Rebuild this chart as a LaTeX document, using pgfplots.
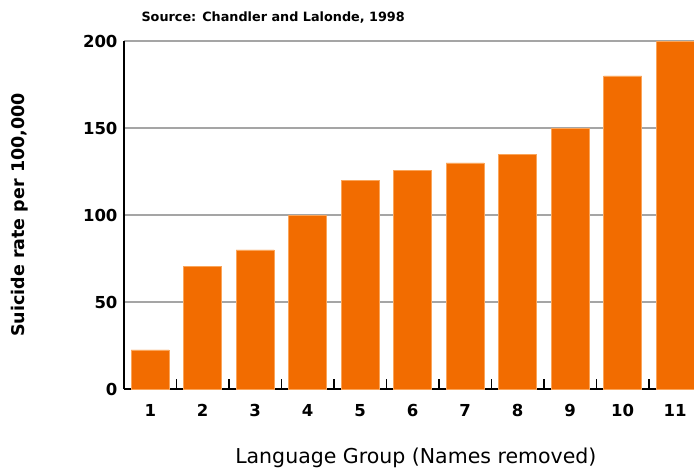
\documentclass[border=0pt]{standalone}
\usepackage{fontspec}
\setmainfont{DejaVu Sans}
\usepackage{pgfplots}
\pgfplotsset{compat=1.18}
\definecolor{barorange}{RGB}{242,108,0}
\definecolor{baredge}{RGB}{250,165,90}
\definecolor{gridgray}{RGB}{165,165,165}
\begin{document}
\begin{tikzpicture}
\useasboundingbox (-124pt,-83pt) rectangle (570pt,389pt);
\begin{axis}[
  at={(0pt,0pt)}, anchor=south west,
  scale only axis,
  width=570pt, height=348pt,
  xmin=0.5, xmax=11.36,
  ymin=0, ymax=200,
  axis lines*=left,
  axis line style={black, line width=1.3pt},
  ymajorgrids,
  grid style={gridgray, line width=1.3pt},
  ytick={0,50,100,150,200},
  xtick={1,2,3,4,5,6,7,8,9,10,11},
  tick style={black, line width=1.3pt},
  tick align=inside,
  major tick length=0pt,
  /pgf/number format/assume math mode=true,
  ticklabel style={font=\fontsize{16.5}{16.5}\selectfont\bfseries},
  yticklabel style={anchor=east, xshift=-3pt},
  xticklabel style={anchor=base, yshift=-27pt},
  extra x ticks={1.5,2.5,3.5,4.5,5.5,6.5,7.5,8.5,9.5,10.5},
  extra x tick labels={},
  extra x tick style={grid=none, major tick length=10pt, tick align=inside},
  xlabel={Language Group (Names removed)},
  ylabel={Suicide rate per 100,000},
  every axis x label/.style={at={(axis description cs:0.512,0)}, anchor=center, yshift=-69pt,
     font=\fontsize{20.5}{20.5}\selectfont},
  every axis y label/.style={at={(axis description cs:0,0.5)}, anchor=center, xshift=-104pt,
     rotate=90, font=\fontsize{17.5}{17.5}\selectfont\bfseries},
  clip=false,
]
\addplot[ybar, bar width=38pt, fill=barorange, draw=baredge, line width=0.6pt]
  coordinates {(1,22.5) (2,70.5) (3,80) (4,100) (5,120) (6,125.5) (7,130) (8,135) (9,150) (10,180) (11,200)};
\node[anchor=west, font=\fontsize{12.8}{12.8}\selectfont\bfseries] at (axis description cs:0,1) [xshift=14pt, yshift=23pt] {Source: Chandler and Lalonde, 1998};
\end{axis}
\end{tikzpicture}
\end{document}
